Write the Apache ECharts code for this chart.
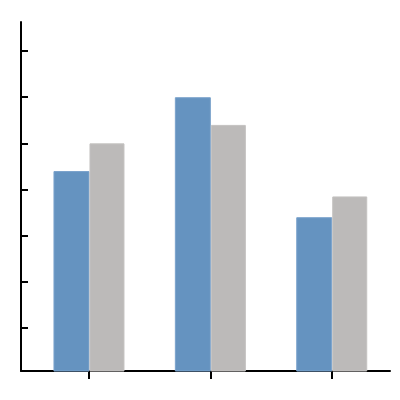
<!DOCTYPE html>
<html>
<head>
<meta charset="utf-8">
<script src="https://cdn.jsdelivr.net/npm/echarts@6/dist/echarts.min.js"></script>
<style>
html, body { margin: 0; padding: 0; background: #fff; }
#chart { width: 400px; height: 400px; }
</style>
</head>
<body>
<div id="chart"></div>
<script>
// group positions on the x scale, one per category
const groupPos = [0, 1, 2];
const blueValues = [4.4, 6.0, 3.4];
const grayValues = [5.0, 5.4, 3.85];
const yTicks = [1, 2, 3, 4, 5, 6, 7];

function pairs(vals) {
    return vals.map(function (v, i) { return [groupPos[i], v]; });
}

let chart = echarts.init(document.getElementById('chart'));
chart.setOption({
    animation: false,
    grid: { left: 21, right: 10, top: 22, bottom: 29 },
    xAxis: {
        type: 'value',
        min: -0.56,
        max: 2.48,
        axisLine: { onZero: false, lineStyle: { color: '#000', width: 2 } },
        axisTick: { show: true, length: 8, customValues: groupPos, lineStyle: { color: '#000', width: 2 } },
        axisLabel: { show: false },
        splitLine: { show: false }
    },
    yAxis: {
        type: 'value',
        min: 0.067,
        max: 7.63,
        axisLine: { show: true, onZero: false, lineStyle: { color: '#000', width: 2 } },
        axisTick: { show: true, inside: true, length: 7, customValues: yTicks, lineStyle: { color: '#000', width: 2 } },
        axisLabel: { show: false },
        splitLine: { show: false }
    },
    series: [{
        name: 'blue',
        type: 'bar',
        data: pairs(blueValues),
        barWidth: 36,
        barGap: '0%',
        itemStyle: { color: '#6593c0', borderColor: '#7aa2cc', borderWidth: 1 }
    }, {
        name: 'gray',
        type: 'bar',
        data: pairs(grayValues),
        barWidth: 35,
        barGap: '0%',
        itemStyle: { color: '#bcbab9', borderColor: '#c4c2c1', borderWidth: 1 }
    }]
});
</script>
</body>
</html>
